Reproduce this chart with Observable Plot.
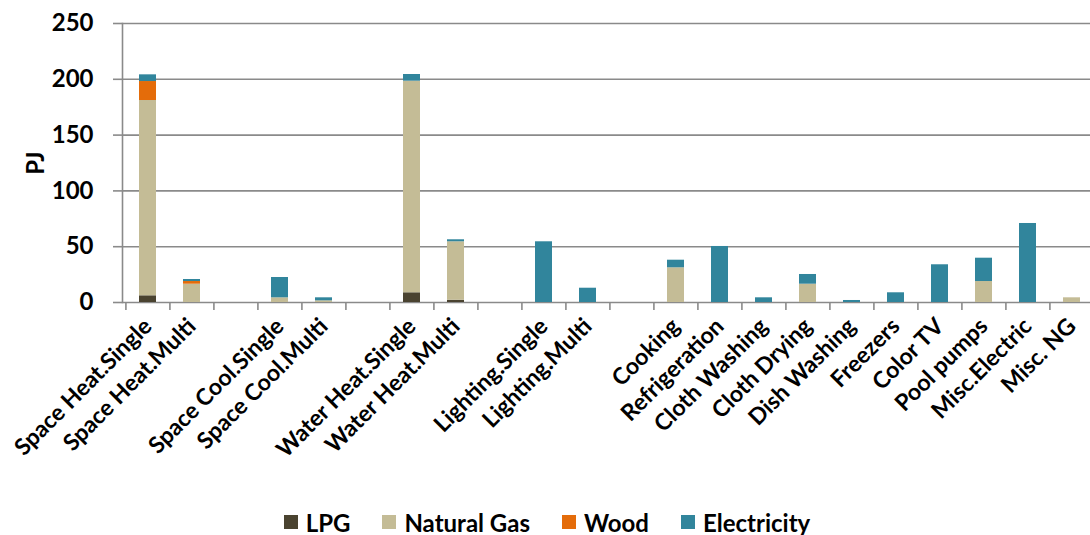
<!DOCTYPE html>
<html><head><meta charset="utf-8">
<script src="https://cdn.jsdelivr.net/npm/d3@7"></script>
<script src="https://cdn.jsdelivr.net/npm/@observablehq/plot@0.6"></script>
<style>
body{margin:0;background:#fff;font-family:Lato,sans-serif;}
#legend{display:flex;justify-content:center;align-items:center;height:30px;margin-top:2px;font-weight:bold;font-size:24px;color:#000;padding-left:4px;}
.item{display:flex;align-items:center;margin:0 16px;}
.sw{width:14px;height:14px;margin-right:8px;}
</style></head><body>
<div id="chart"></div>
<div id="legend"></div>
<script>
const xDomain = ["Space Heat.Single","Space Heat.Multi","_1","Space Cool.Single","Space Cool.Multi","_2","Water Heat.Single","Water Heat.Multi","_3","Lighting.Single","Lighting.Multi","_4","Cooking","Refrigeration","Cloth Washing","Cloth Drying","Dish Washing","Freezers","Color TV","Pool pumps","Misc.Electric","Misc. NG"];
const categories = ["Space Heat.Single","Space Heat.Multi","Space Cool.Single","Space Cool.Multi","Water Heat.Single","Water Heat.Multi","Lighting.Single","Lighting.Multi","Cooking","Refrigeration","Cloth Washing","Cloth Drying","Dish Washing","Freezers","Color TV","Pool pumps","Misc.Electric","Misc. NG"];
const fuels = ["LPG","Natural Gas","Wood","Electricity"];
const lpg =         [6,   0,    0,   0,   8.7,  2,    0,    0,    0,    0,    0,   0,    0,   0,   0,    0,    0,    0];
const naturalGas =  [175, 16.4, 4.2, 1.5, 189.6,52.4, 0,    0,    31.1, 0,    0,   16.4, 0,   0,   0,    18.8, 0,    4.2];
const wood =        [17,  2.4,  0,   0,   0,    0,    0,    0,    0,    0,    0,   0,    0,   0,   0,    0,    0,    0];
const electricity = [6,   1.8,  18.2,2.7, 6,    1.8,  54.4, 12.8, 6.8,  50.2, 4.2, 8.7,  1.8, 8.7, 33.8, 20.9, 70.8, 0];
const colors = ["#4a4330","#c4bc96","#e46c0a","#31859c"];
const yTicks = [0,50,100,150,200,250];

const series = [lpg, naturalGas, wood, electricity];
const data = [];
fuels.forEach((f, i) => categories.forEach((c, j) => data.push({category: c, fuel: f, value: series[i][j]})));

const x0 = 123, x1 = 1095;
const step = (x1 - x0) / xDomain.length;

const chart = Plot.plot({
  width: 1090, height: 505,
  marginLeft: 122, marginRight: 0, marginTop: 23, marginBottom: 203,
  style: {fontFamily: "Lato, sans-serif", background: "#fff"},
  x: {domain: xDomain, range: [x0, x1], paddingInner: 0.62, paddingOuter: 0.31},
  y: {domain: [0, 250]},
  color: {domain: fuels, range: colors},
  marks: [
    Plot.gridY(yTicks, {stroke: "#8a8a8a", strokeOpacity: 1, strokeWidth: 1.6}),
    Plot.barY(data, {x: "category", y: "value", fill: "fuel"}),
    Plot.frame({anchor: "left", stroke: "#8a8a8a", strokeWidth: 1.6}),
    Plot.axisY(yTicks, {tickSize: 9, tickPadding: 20, fontSize: 24, fontWeight: "bold", fill: "#000", stroke: "#8a8a8a", strokeWidth: 1.6, label: "PJ", labelArrow: "none", labelAnchor: "center", labelOffset: 96}),
    Plot.axisX({tickSize: 8, dx: -step / 2, stroke: "#8a8a8a", strokeWidth: 1.6, tickFormat: () => "", label: null}),
    Plot.axisX({tickSize: 0, tickPadding: 20, tickRotate: -45, fontSize: 23, fontWeight: "bold", fill: "#000", tickFormat: d => d.startsWith("_") ? "" : d, label: null})
  ]
});
document.getElementById("chart").appendChild(chart);

const legend = document.getElementById("legend");
fuels.forEach((f, i) => {
  const it = document.createElement("div"); it.className = "item";
  const sw = document.createElement("div"); sw.className = "sw"; sw.style.background = colors[i];
  const tx = document.createElement("span"); tx.textContent = f;
  it.appendChild(sw); it.appendChild(tx); legend.appendChild(it);
});
</script>
</body></html>
